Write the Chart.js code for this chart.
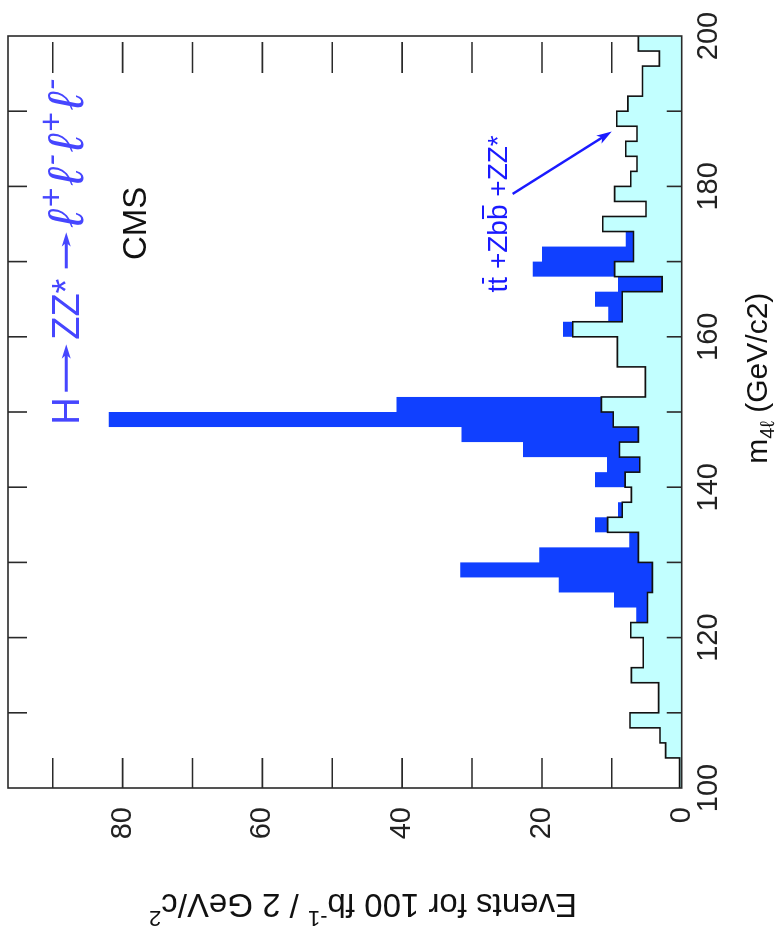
<!DOCTYPE html>
<html>
<head>
<meta charset="utf-8">
<script src="https://cdn.jsdelivr.net/npm/chart.js@4.4.1/dist/chart.umd.min.js"></script>
<style>
  body { margin: 0; background: #fff; overflow: hidden; }
  /* the plot is drawn the normal way round, then turned a quarter turn left */
  #wrap { position: absolute; left: 0; top: 0; width: 933px; height: 775px;
          transform-origin: 0 0; transform: translate(0, 933px) rotate(-90deg); }
</style>
</head>
<body>
<div id="wrap"><canvas id="plot" width="933" height="775"></canvas></div>
<script>
// lower edge of each 2 GeV bin of m4l
const massBins = [100, 102, 104, 106, 108, 110, 112, 114, 116, 118,
                  120, 122, 124, 126, 128, 130, 132, 134, 136, 138,
                  140, 142, 144, 146, 148, 150, 152, 154, 156, 158,
                  160, 162, 164, 166, 168, 170, 172, 174, 176, 178,
                  180, 182, 184, 186, 188, 190, 192, 194, 196, 198];
const massMax = 200;

// tt + Zbb + ZZ* background, events per bin
const background = [0.3, 0.3, 2.3, 3.1, 7.4, 3.3, 3.3, 7.2, 5.5, 5.5,
                    7.3, 4.9, 4.9, 4.2, 4.2, 6.2, 6.2, 10.6, 8.5, 7.2,
                    8.1, 6.0, 8.9, 6.2, 9.8, 11.5, 5.2, 5.2, 9.2, 9.2,
                    15.6, 8.5, 8.5, 2.8, 9.6, 6.9, 6.9, 11.3, 5.1, 9.6,
                    7.3, 6.4, 8.0, 6.4, 9.3, 7.7, 5.6, 5.6, 3.2, 6.2];

// H -> ZZ* -> 4l signal on top of the background (several mass points)
const signal = [0, 0, 0, 0, 0, 0, 0, 0, 0, 0,
                0, 1.6, 4.8, 13.4, 27.5, 14.2, 1.3, 1.8, 0.6, 0,
                4.3, 4.7, 13.8, 25.3, 72.2, 29.3, 0, 0, 0, 0,
                1.4, 2.0, 3.9, 6.3, 11.7, 13.1, 1.1, 0, 0, 0,
                0, 0, 0, 0, 0, 0, 0, 0, 0, 0];

const eventTicks = [0, 20, 40, 60, 80];
const massTicks = [100, 120, 140, 160, 180, 200];

const FONT = "'Liberation Sans', Arial, Helvetica, sans-serif";
Chart.defaults.font.family = FONT;

// step histogram points: value of a bin held from its lower edge to the next edge
function histPoints(values) {
    const pts = massBins.map((m, i) => ({ x: m, y: values[i] }));
    pts.push({ x: massMax, y: values[values.length - 1] });
    return pts;
}
const total = background.map((b, i) => b + signal[i]);

// text with super/subscripts, parts = [[text, 'sup'|'sub'|''], ...]
function richText(ctx, parts, x, y, size, align, style, gap) {
    const fontOf = k => (style || '') + ' ' + (k ? Math.round(size * 0.68) : size) + 'px ' + FONT;
    const widths = parts.map(([t, k]) => { ctx.font = fontOf(k); return ctx.measureText(t).width + (gap || 0); });
    const w = widths.reduce((a, b) => a + b, 0);
    let cx = align === 'center' ? x - w / 2 : x;
    parts.forEach(([t, k], i) => {
        ctx.font = fontOf(k);
        const dy = k === 'sup' ? -size * 0.42 : k === 'sub' ? size * 0.22 : 0;
        ctx.fillText(t, cx, y + dy);
        cx += widths[i];
    });
    return w;
}

function arrow(ctx, x1, y1, x2, y2, head) {
    const a = Math.atan2(y2 - y1, x2 - x1);
    ctx.beginPath();
    ctx.moveTo(x1, y1);
    ctx.lineTo(x2 - Math.cos(a) * head * 0.6, y2 - Math.sin(a) * head * 0.6);
    ctx.stroke();
    ctx.beginPath();
    ctx.moveTo(x2, y2);
    ctx.lineTo(x2 - head * Math.cos(a - 0.3), y2 - head * Math.sin(a - 0.3));
    ctx.lineTo(x2 - head * 0.7 * Math.cos(a), y2 - head * 0.7 * Math.sin(a));
    ctx.lineTo(x2 - head * Math.cos(a + 0.3), y2 - head * Math.sin(a + 0.3));
    ctx.closePath();
    ctx.fill();
}

// frame, inward ticks, axis titles and the labels inside the plot
const decorations = {
    id: 'decorations',
    afterDraw(chart) {
        const { ctx, chartArea: a, scales: { x, y } } = chart;
        ctx.save();
        ctx.strokeStyle = '#2a2a2a';
        ctx.lineWidth = 1.6;
        ctx.strokeRect(a.left, a.top, a.right - a.left, a.bottom - a.top);
        ctx.beginPath();
        x.ticks.forEach(t => {
            if (t.value <= x.min || t.value >= x.max) return;
            const px = x.getPixelForValue(t.value);
            ctx.moveTo(px, a.bottom); ctx.lineTo(px, a.bottom - 15);
            ctx.moveTo(px, a.top); ctx.lineTo(px, a.top + 19);
        });
        y.ticks.forEach(t => {
            if (t.value <= y.min) return;
            const py = y.getPixelForValue(t.value);
            ctx.moveTo(a.left, py); ctx.lineTo(a.left + 30, py);
            ctx.moveTo(a.right - 6, py); ctx.lineTo(a.right - 37, py);
        });
        ctx.stroke();

        // axis titles
        ctx.fillStyle = '#111';
        ctx.textBaseline = 'alphabetic';
        richText(ctx, [['m', ''], ['4ℓ', 'sub'], [' (GeV/c2)', '']],
                 x.getPixelForValue(154.5), 767, 30, 'center');
        ctx.save();
        ctx.translate(30, 363);
        ctx.rotate(-Math.PI / 2);
        ctx.textBaseline = 'middle';
        richText(ctx, [['Events for 100 fb', ''], ['-1', 'sup'], [' / 2 GeV/c', ''], ['2', 'sup']],
                 0, 0, 33, 'center');
        ctx.restore();

        // CMS
        ctx.font = '33px ' + FONT;
        ctx.fillText('CMS', x.getPixelForValue(170.2), y.getPixelForValue(76.6));

        // H -> ZZ* -> llll
        const hv = y.getPixelForValue(86.2);
        ctx.fillStyle = '#4646ff';
        ctx.strokeStyle = '#4646ff';
        ctx.lineWidth = 3;
        ctx.font = '38px ' + FONT;
        ctx.fillText('H', x.getPixelForValue(148.3), hv);
        arrow(ctx, x.getPixelForValue(152.7), hv - 13, x.getPixelForValue(159.0), hv - 13, 15);
        ctx.fillText('ZZ*', x.getPixelForValue(159.6), hv);
        arrow(ctx, x.getPixelForValue(169.1), hv - 13, x.getPixelForValue(173.9), hv - 13, 15);
        richText(ctx, [['ℓ', ''], ['+', 'sup'], ['ℓ', ''], ['-', 'sup'], ['ℓ', ''], ['+', 'sup'], ['ℓ', ''], ['-', 'sup']],
                 x.getPixelForValue(174.6), y.getPixelForValue(85.6), 50, 'left', 'italic', 3);

        // background label and arrow
        ctx.fillStyle = '#1a1aff';
        ctx.strokeStyle = '#1a1aff';
        ctx.font = '28px ' + FONT;
        const bx = x.getPixelForValue(165.9), bv = y.getPixelForValue(25.0);
        let cx = bx;
        const piece = (t, bar) => {
            const w = ctx.measureText(t).width;
            ctx.fillText(t, cx, bv);
            if (bar) { ctx.lineWidth = 2; ctx.beginPath(); ctx.moveTo(cx + 1, bv - 24); ctx.lineTo(cx + w - 1, bv - 24); ctx.stroke(); }
            cx += w;
        };
        piece('t'); piece('t', true); piece(' +Zb'); piece('b', true); piece(' +ZZ*');
        ctx.lineWidth = 2.5;
        arrow(ctx, x.getPixelForValue(179.0), y.getPixelForValue(24.2),
              x.getPixelForValue(187.3), y.getPixelForValue(10.0), 16);
        ctx.restore();
    }
};

new Chart(document.getElementById('plot'), {
    type: 'line',
    data: {
        datasets: [{
            label: 'tt + Zbb + ZZ*',
            data: histPoints(background),
            stepped: 'before',
            fill: 'origin',
            backgroundColor: '#c2ffff',
            borderColor: '#111',
            borderWidth: 1.6,
            pointRadius: 0
        }, {
            label: 'signal + background',
            data: histPoints(total),
            stepped: 'before',
            fill: 'origin',
            backgroundColor: '#1040ff',
            borderColor: '#1040ff',
            borderWidth: 0,
            pointRadius: 0
        }]
    },
    options: {
        responsive: false,
        animation: false,
        events: [],
        layout: { padding: { left: 0, top: 8, right: 36, bottom: 0 } },
        plugins: { legend: { display: false }, tooltip: { enabled: false } },
        scales: {
            x: {
                type: 'linear', min: 100, max: massMax,
                grid: { display: false, drawTicks: false },
                border: { display: false },
                ticks: {
                    stepSize: 10, autoSkip: false, maxRotation: 0, padding: 10,
                    color: '#222', font: { size: 29 },
                    callback: v => massTicks.includes(v) ? String(v) : ''
                },
                afterFit: s => { s.height = 93.3; s.paddingLeft = 0; s.paddingRight = 0; }
            },
            y: {
                type: 'linear', min: 0, max: 96.4,
                grid: { display: false, drawTicks: false },
                border: { display: false },
                ticks: {
                    stepSize: 10, includeBounds: false, padding: 19,
                    color: '#222', font: { size: 29 },
                    callback: v => eventTicks.includes(v) ? String(v) : ''
                },
                afterFit: s => { s.width = 145; s.paddingTop = 0; s.paddingBottom = 0; }
            }
        }
    },
    plugins: [decorations]
});
</script>
</body>
</html>
